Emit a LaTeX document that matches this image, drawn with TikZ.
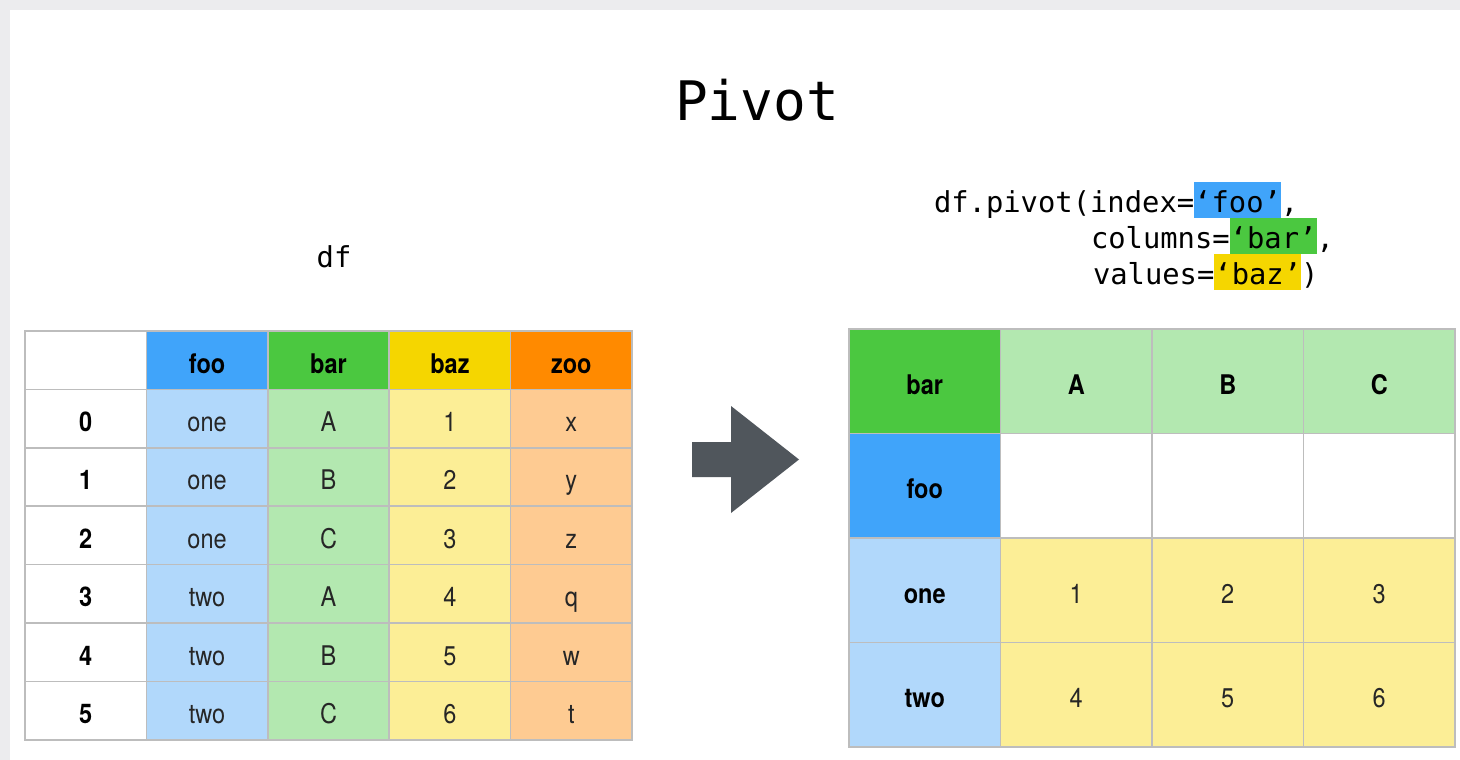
\documentclass[tikz,border=0pt]{standalone}
\usepackage{fontspec}
\usepackage{tikz}
\usetikzlibrary{positioning}

\newfontfamily\codefont{DejaVu Sans Mono}
\newfontfamily\tabfont[FakeStretch=0.87]{TeX Gyre Heros}

\definecolor{fooc}{RGB}{64,164,250}
\definecolor{barc}{RGB}{75,200,64}
\definecolor{bazc}{RGB}{245,214,0}
\definecolor{zooc}{RGB}{255,138,0}
\definecolor{foolt}{RGB}{177,216,251}
\definecolor{barlt}{RGB}{179,232,176}
\definecolor{bazlt}{RGB}{252,238,150}
\definecolor{zoolt}{RGB}{254,203,146}
\definecolor{gridgray}{RGB}{189,189,189}
\definecolor{arrowc}{RGB}{80,86,92}
\definecolor{bggray}{RGB}{236,236,238}

\begin{document}
\begin{tikzpicture}[
		x=0.02cm, y=-0.02cm,
		every node/.style={inner sep=0pt, outer sep=0pt},
		cell/.style={draw=gridgray, line width=0.85pt, text=black!85,
			text height=15pt, text depth=0.4pt,
			font=\tabfont\fontsize{15.4}{18}\selectfont},
		lcell/.style={cell, minimum width=2.428cm, minimum height=1.168cm},
		rcell/.style={cell, minimum width=3.03cm, minimum height=2.09cm},
		head/.style={text=black, font=\tabfont\bfseries\fontsize{15.4}{18}\selectfont},
		code/.style={font=\codefont\fontsize{16.4}{20}\selectfont, text height=17pt, text depth=3pt}
	]

	% Page background
	\useasboundingbox (0,0) rectangle (1460,760);
	\fill[bggray] (0,0) rectangle (1460,760);
	\fill[white] (10,10) rectangle (1460,760);

	% Title
	\node[font=\codefont\fontsize{31}{36}\selectfont] (title) at (757,100) {Pivot};

	% Left: df
	\node[code, anchor=base] (dflabel) at (334,267) {df};

	\foreach \name/\col [count=\c from 0] in {{}/white, foo/fooc, bar/barc, baz/bazc, zoo/zooc}
		\node[lcell, head, fill=\col] (lh\c) at ({25+121.4*(\c+0.5)}, 360.2) {\name};

	\foreach \idx/\f/\b/\z/\o [count=\r] in {0/one/A/1/x, 1/one/B/2/y, 2/one/C/3/z, 3/two/A/4/q, 4/two/B/5/w, 5/two/C/6/t} {
		\pgfmathsetmacro\yy{331+58.4*(\r+0.5)}
		\node[lcell, head, fill=white] (li\r) at (85.7,\yy) {\idx};
		\node[lcell, fill=foolt] (lf\r) at (207.1,\yy) {\f};
		\node[lcell, fill=barlt] (lb\r) at (328.5,\yy) {\b};
		\node[lcell, fill=bazlt] (lz\r) at (449.9,\yy) {\z};
		\node[lcell, fill=zoolt] (lo\r) at (571.3,\yy) {\o};
	}

	% Arrow
	\fill[arrowc] (692,442) -- (731,442) -- (731,406) -- (799,459.5)
		-- (731,513) -- (731,477) -- (692,477) -- cycle;

	% Right: call
	\node[code, anchor=west] (idx) at (934,200) {df.pivot(index=};
	\node[code, fill=fooc, right=0pt of idx] (idxval) {‘foo’};
	\node[code, right=0pt of idxval] (idxend) {,};
	\node[code, anchor=west] (cols) at (1091,236) {columns=};
	\node[code, fill=barc, right=0pt of cols] (colsval) {‘bar’};
	\node[code, right=0pt of colsval] (colsend) {,};
	\node[code, anchor=west] (vals) at (1093,272) {values=};
	\node[code, fill=bazc, right=0pt of vals] (valsval) {‘baz’};
	\node[code, right=0pt of valsval] (valsend) {)};

	% Right: pivoted table
	\node[rcell, head, fill=barc] (rbar) at (924.75,381.25) {bar};
	\node[rcell, head, fill=fooc] (rfoo) at (924.75,485.75) {foo};
	\foreach \k/\v [count=\c] in {A/1, B/2, C/3} {
		\node[rcell, head, fill=barlt] (rh\c) at ({849+151.5*(\c+0.5)}, 381.25) {\k};
		\node[rcell, fill=white] (re\c) at ({849+151.5*(\c+0.5)}, 485.75) {};
	}
	\foreach \lab/\a/\b/\cc [count=\r] in {one/1/2/3, two/4/5/6} {
		\pgfmathsetmacro\yy{329+104.5*(\r+1.5)}
		\node[rcell, head, fill=foolt] (rl\r) at (924.75,\yy) {\lab};
		\node[rcell, fill=bazlt] (ra\r) at (1076.25,\yy) {\a};
		\node[rcell, fill=bazlt] (rb\r) at (1227.75,\yy) {\b};
		\node[rcell, fill=bazlt] (rc\r) at (1379.25,\yy) {\cc};
	}

\end{tikzpicture}
\end{document}
